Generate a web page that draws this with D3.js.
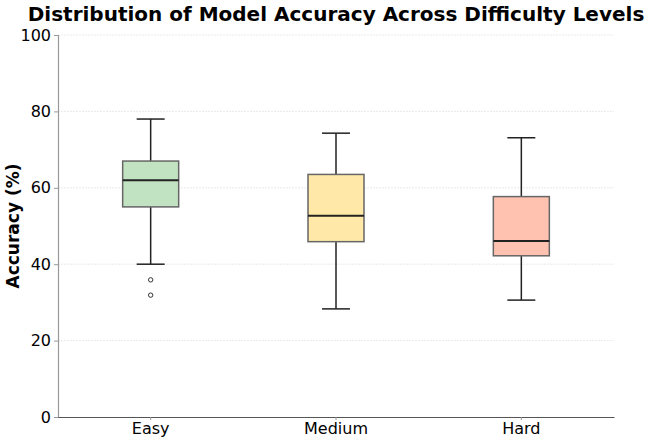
<!DOCTYPE html>
<html><head><meta charset="utf-8">
<script src="https://cdn.jsdelivr.net/npm/d3@7"></script>
<style>body{margin:0;background:#fff}svg{display:block}text{font-family:"DejaVu Sans",sans-serif}</style>
</head><body><svg id="c" width="648" height="442"></svg>
<script>
const categories = ["Easy", "Medium", "Hard"];
const whiskerLow = [40.0, 28.3, 30.6];
const q1 = [55.0, 45.9, 42.2];
const median = [62.0, 52.7, 46.1];
const q3 = [67.0, 63.5, 57.7];
const whiskerHigh = [78.0, 74.3, 73.1];
const outliers = [[35.9, 31.9], [], []];
const colors = ["#c2e3c2", "#ffe8a8", "#ffc2b0"];
const yTicks = [0, 20, 40, 60, 80, 100];

const svg = d3.select("#c");
const m = {l: 58, r: 34, t: 35, b: 25};
const W = 648, H = 442;
const x = d3.scaleBand().domain(categories).range([m.l, W - m.r]).padding(0);
const y = d3.scaleLinear().domain([0, 100]).range([H - m.b, m.t]);
const bw = 56;

// grid
svg.append("g").selectAll("line").data(yTicks.filter(d => d > 0)).join("line")
  .attr("x1", m.l).attr("x2", W - m.r)
  .attr("y1", d => y(d)).attr("y2", d => y(d))
  .attr("stroke", "#e4e4e4").attr("stroke-width", 0.8).attr("stroke-dasharray", "2,1");

const data = categories.map((c, i) => ({c, i}));
const g = svg.append("g");
data.forEach(({c, i}) => {
  const cx = x(c) + x.bandwidth() / 2;
  // whiskers
  g.append("line").attr("x1", cx).attr("x2", cx).attr("y1", y(q3[i])).attr("y2", y(whiskerHigh[i])).attr("stroke", "#222").attr("stroke-width", 1.5);
  g.append("line").attr("x1", cx).attr("x2", cx).attr("y1", y(q1[i])).attr("y2", y(whiskerLow[i])).attr("stroke", "#222").attr("stroke-width", 1.5);
  [whiskerHigh[i], whiskerLow[i]].forEach(v => {
    g.append("line").attr("x1", cx - bw / 4).attr("x2", cx + bw / 4).attr("y1", y(v)).attr("y2", y(v)).attr("stroke", "#222").attr("stroke-width", 1.5);
  });
  g.append("rect").attr("x", cx - bw / 2).attr("width", bw)
    .attr("y", y(q3[i])).attr("height", y(q1[i]) - y(q3[i]))
    .attr("fill", colors[i]).attr("stroke", "#666").attr("stroke-width", 1.5);
  g.append("line").attr("x1", cx - bw / 2).attr("x2", cx + bw / 2).attr("y1", y(median[i])).attr("y2", y(median[i])).attr("stroke", "#222").attr("stroke-width", 2);
  outliers[i].forEach(v => {
    g.append("circle").attr("cx", cx).attr("cy", y(v)).attr("r", 2.2).attr("fill", "none").attr("stroke", "#333").attr("stroke-width", 1);
  });
});

// axes
const ya = svg.append("g").attr("transform", `translate(${m.l},0)`)
  .call(d3.axisLeft(y).tickValues(yTicks).tickSize(4).tickPadding(3));
ya.select(".domain").attr("stroke", "#999").attr("stroke-width", 1.2);
ya.selectAll(".tick line").attr("stroke", "#999");
ya.selectAll("text").attr("font-size", 16).attr("fill", "#000").attr("font-family", "DejaVu Sans");

const xa = svg.append("g").attr("transform", `translate(0,${H - m.b})`)
  .call(d3.axisBottom(x).tickSize(3).tickPadding(3).tickSizeOuter(0));
xa.select(".domain").attr("stroke", "#555").attr("stroke-width", 1.2);
xa.selectAll(".tick line").attr("stroke", "#999");
xa.selectAll("text").attr("font-size", 16).attr("fill", "#000").attr("font-family", "DejaVu Sans");

svg.append("text").attr("x", 336).attr("y", 21).attr("text-anchor", "middle")
  .attr("font-size", 20).attr("font-weight", "bold").text("Distribution of Model Accuracy Across Difficulty Levels");
svg.append("text").attr("transform", `translate(19,${(m.t + H - m.b) / 2}) rotate(-90)`)
  .attr("text-anchor", "middle").attr("font-size", 17).attr("font-weight", "bold").text("Accuracy (%)");
</script></body></html>
